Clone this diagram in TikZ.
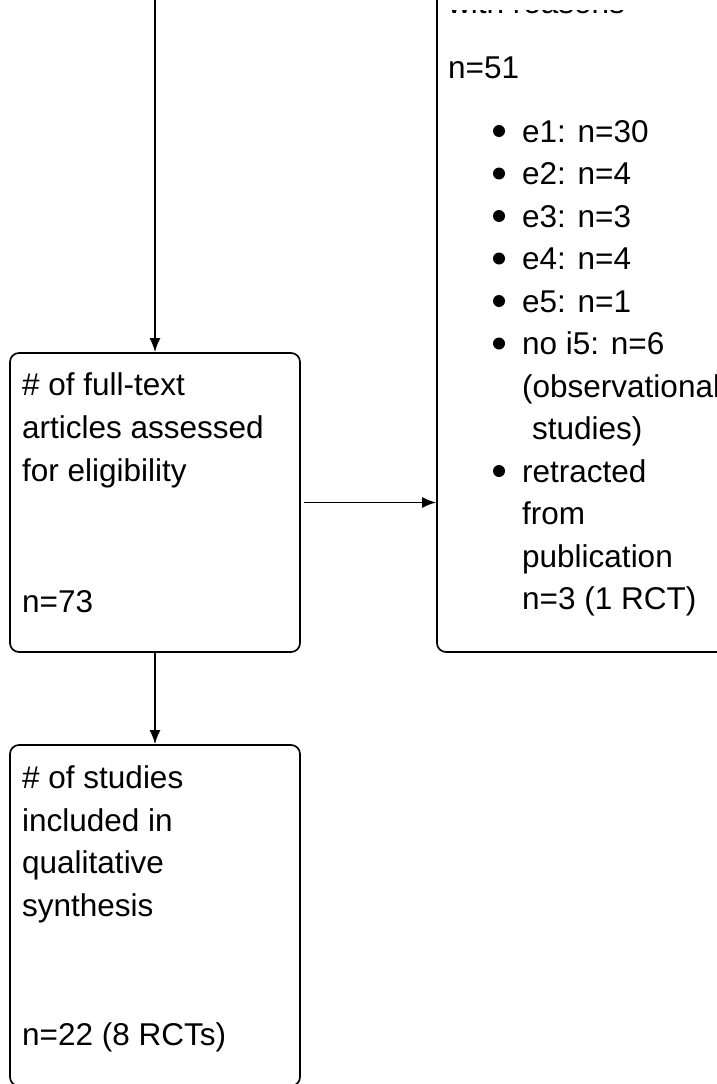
\documentclass[tikz,border=0pt]{standalone}
\usepackage{fontspec}
\setmainfont{Liberation Sans}
\usetikzlibrary{arrows.meta}

\tikzset{
  box/.style={draw, line width=1.7pt, rounded corners=9pt, minimum width=290pt, inner sep=0pt},
  txt/.style={anchor=base west, inner sep=0pt, font=\fontsize{31.5}{42}\selectfont},
  dot/.style={circle, fill, inner sep=0pt, minimum size=12pt},
  link/.style={line width=1.7pt, -{Latex[length=14pt,width=11pt]}}
}

\begin{document}
\begin{tikzpicture}[x=1pt, y=-1pt]
    \useasboundingbox (0,0) rectangle (717,1084);
    \clip (0,0) rectangle (717,1084);

    % Create boxes
    \node[box, minimum height=299pt] (full) at (155,502.5) {};
    \node[box, minimum height=341pt] (incl) at (155,915.5) {};
    \node[box, minimum width=563pt, minimum height=952pt] (excl) at (718.5,176) {};

    % Texts of the assessed box
    \node[txt] (fullA) at (22,395) {\# of full-text};
    \node[txt] (fullB) at (22,438) {articles assessed};
    \node[txt] (fullC) at (22,481) {for eligibility};
    \node[txt] (fullN) at (22,612) {n=73};

    % Texts of the included box
    \node[txt] (inclA) at (22,788) {\# of studies};
    \node[txt] (inclB) at (22,831) {included in};
    \node[txt] (inclC) at (22,873) {qualitative};
    \node[txt] (inclD) at (22,916) {synthesis};
    \node[txt] (inclN) at (22,1045) {n=22 (8 RCTs)};

    % Texts of the excluded box (its first line shows only its foot)
    \begin{scope}
        \clip (440,10) rectangle (717,30);
        \node[txt] (exclA) at (448,13.5) {with reasons};
    \end{scope}
    \node[txt] (exclN) at (448,78) {n=51};
    \foreach \yy/\lbl [count=\i] in {142/e1: n=30, 184.5/e2: n=4, 227/e3: n=3,
        269.5/e4: n=4, 312/e5: n=1, 354.5/no i5: n=6, 482/retracted} {
        \node[dot] (dot\i) at (499,\yy-11) {};
        \node[txt] (item\i) at (522,\yy) {\lbl};
    }
    \node[txt] (obsA) at (522,397) {(observational};
    \node[txt] (obsB) at (532,439) {studies)};
    \node[txt] (retrB) at (522,524) {from};
    \node[txt] (retrC) at (522,567) {publication};
    \node[txt] (retrD) at (522,609) {n=3 (1 RCT)};

    % Draw arrows
    \coordinate (top) at (155,-20);
    \draw[link] (top) -- (full.north);
    \draw[link] (full.south) -- (incl.north);
    \draw[link] ([xshift=3pt]full.east) -- (full.east -| excl.west);
\end{tikzpicture}
\end{document}
